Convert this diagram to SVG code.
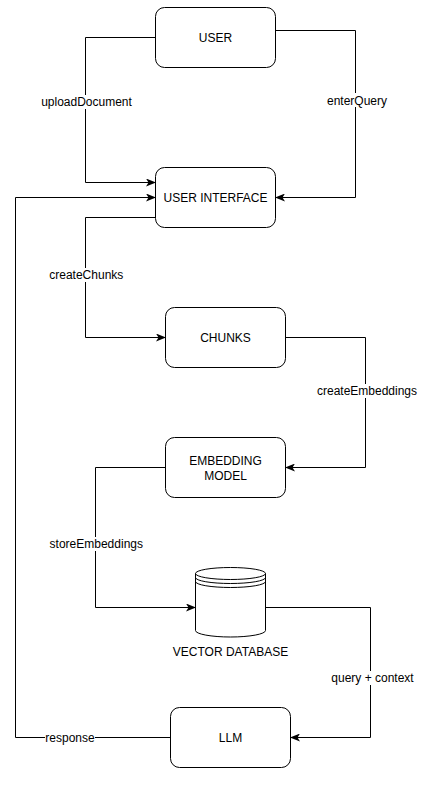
<svg xmlns="http://www.w3.org/2000/svg" width="426" height="786" viewBox="0 0 426 786">
<defs>
<marker id="arr" viewBox="0 0 10 8" refX="9" refY="4" markerWidth="10" markerHeight="8" markerUnits="userSpaceOnUse" orient="auto">
<path d="M0,0 L10,4 L0,8 L2.5,4 z" fill="#000"/>
</marker>
<style>
.node{fill:#fff;stroke:#000;stroke-width:1}
.t{font-family:"Liberation Sans",Arial,sans-serif;font-size:12px;fill:#000;text-anchor:middle}
.e{fill:none;stroke:#000;stroke-width:1;marker-end:url(#arr)}
.lb{fill:#fff;stroke:none}
</style>
</defs>
<rect width="426" height="786" fill="#fff"/>
<g id="connectors">
<path class="e" d="M155.5,37.5 H85.5 V182.5 H155"/>
<path class="e" d="M275.5,30.5 H355.5 V197.5 H276"/>
<path class="e" d="M155.5,217.5 H85.5 V337.5 H165"/>
<path class="e" d="M285.5,337.5 H365.5 V467.5 H286"/>
<path class="e" d="M165.5,467.5 H95.5 V607.5 H195"/>
<path class="e" d="M265.5,607.5 H370.5 V737.5 H291"/>
<path class="e" d="M170.5,737.5 H15.5 V197.5 H155"/>
<g id="labels">
<rect class="lb" x="41" y="95" width="91" height="14"/>
<text class="t" x="86.5" y="106">uploadDocument</text>
<rect class="lb" x="327" y="93" width="60" height="14"/>
<text class="t" x="357" y="104.5">enterQuery</text>
<rect class="lb" x="50" y="268" width="73" height="14"/>
<text class="t" x="86.3" y="279">createChunks</text>
<rect class="lb" x="317" y="384" width="100" height="14"/>
<text class="t" x="367" y="395">createEmbeddings</text>
<rect class="lb" x="50" y="537" width="93" height="14"/>
<text class="t" x="96.3" y="548">storeEmbeddings</text>
<rect class="lb" x="331" y="671" width="83" height="14"/>
<text class="t" x="372.5" y="682">query + context</text>
<rect class="lb" x="45" y="731" width="50" height="14"/>
<text class="t" x="70" y="741.5">response</text>
</g>
</g>
<g id="user">
<rect class="node" x="155.5" y="7.5" width="120" height="60" rx="9" ry="9"/>
<text class="t" x="215.5" y="41.5">USER</text>
</g>
<g id="user-interface">
<rect class="node" x="155.5" y="167.5" width="120" height="60" rx="9" ry="9"/>
<text class="t" x="215.5" y="201.5">USER INTERFACE</text>
</g>
<g id="chunks">
<rect class="node" x="165.5" y="307.5" width="120" height="60" rx="9" ry="9"/>
<text class="t" x="225.5" y="341.5">CHUNKS</text>
</g>
<g id="embedding-model">
<rect class="node" x="165.5" y="437.5" width="120" height="60" rx="9" ry="9"/>
<text class="t" x="225.5" y="464.5">EMBEDDING</text>
<text class="t" x="225.5" y="479.5">MODEL</text>
</g>
<g id="vector-database">
<path class="node" d="M195.5,573.5 A35,6 0 0 1 265.5,573.5 V630.5 A35,6.5 0 0 1 195.5,630.5 Z"/>
<path fill="none" stroke="#000" d="M195.5,573.5 A35,6 0 0 0 265.5,573.5"/>
<path fill="none" stroke="#000" d="M195.5,577.5 A35,6 0 0 0 265.5,577.5"/>
<path fill="none" stroke="#000" d="M195.5,581.5 A35,6 0 0 0 265.5,581.5"/>
<text class="t" x="230.5" y="656">VECTOR DATABASE</text>
</g>
<g id="llm">
<rect class="node" x="170.5" y="707.5" width="120" height="60" rx="9" ry="9"/>
<text class="t" x="230.5" y="741.5">LLM</text>
</g>
</svg>
